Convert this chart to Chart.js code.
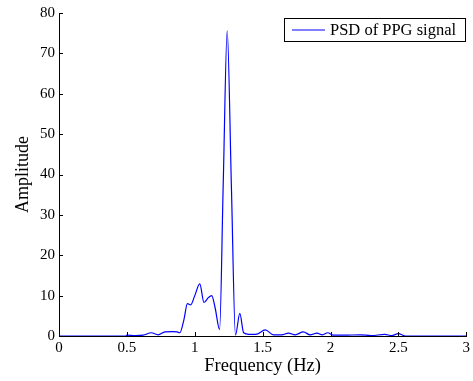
<!DOCTYPE html>
<html>
<head>
<meta charset="utf-8">
<script src="https://cdn.jsdelivr.net/npm/chart.js@4"></script>
<style>
  html, body { margin: 0; padding: 0; background: #fff; }
  #wrap { width: 473px; height: 381px; position: relative; }
</style>
</head>
<body>
<div id="wrap"><canvas id="c" width="473" height="381"></canvas></div>
<script>
const seriesLabel = 'PSD of PPG signal';
const freqHz = [0, 0.49, 0.5, 0.56, 0.62, 0.68, 0.73, 0.78, 0.84, 0.87, 0.89, 0.92, 0.946, 0.97, 1.0, 1.037, 1.068, 1.10, 1.125, 1.15, 1.183, 1.21, 1.239, 1.27, 1.30, 1.332, 1.36, 1.40, 1.45, 1.52, 1.58, 1.64, 1.69, 1.74, 1.80, 1.85, 1.90, 1.94, 1.98, 2.02, 2.1, 2.22, 2.3, 2.4, 2.45, 2.5, 2.55, 3.0];
const psdAmp = [0, 0, 0.2, 0.1, 0.2, 0.8, 0.3, 1.0, 1.1, 1.0, 0.8, 4.0, 8.0, 7.7, 10.0, 12.9, 8.3, 9.5, 10.0, 7.0, 1.6, 38, 75.6, 37, 0.2, 5.6, 0.8, 0.4, 0.4, 1.5, 0.3, 0.3, 0.7, 0.3, 1.0, 0.3, 0.7, 0.3, 0.8, 0.2, 0.2, 0.3, 0.1, 0.4, 0.1, 0.6, 0, 0];
const xTicks = [0, 0.5, 1, 1.5, 2, 2.5, 3];
const yTicks = [0, 10, 20, 30, 40, 50, 60, 70, 80];
const xTitle = 'Frequency (Hz)';
const yTitle = 'Amplitude';

const serif = "'Liberation Serif', 'Times New Roman', serif";

const inwardTicks = {
  id: 'inwardTicks',
  afterDraw(chart) {
    const ctx = chart.ctx, xs = chart.scales.x, ys = chart.scales.y, a = chart.chartArea;
    ctx.save();
    ctx.strokeStyle = '#000';
    ctx.lineWidth = 1;
    ctx.beginPath();
    xTicks.forEach(v => {
      const px = Math.round(xs.getPixelForValue(v)) + 0.5;
      ctx.moveTo(px, a.bottom); ctx.lineTo(px, a.bottom - 4);
    });
    yTicks.forEach(v => {
      const py = Math.round(ys.getPixelForValue(v)) + 0.5;
      ctx.moveTo(a.left, py); ctx.lineTo(a.left + 4, py);
    });
    ctx.stroke();
    // legend box
    const lx = 284, ly = 18, lw = 181, lh = 23;
    ctx.fillStyle = '#fff';
    ctx.fillRect(lx, ly, lw, lh);
    ctx.strokeRect(lx + 0.5, ly + 0.5, lw, lh);
    const ds = chart.data.datasets[0];
    ctx.strokeStyle = ds.borderColor;
    ctx.beginPath();
    ctx.moveTo(292, ly + lh / 2 + 0.5); ctx.lineTo(325, ly + lh / 2 + 0.5);
    ctx.stroke();
    ctx.fillStyle = '#000';
    ctx.font = '16.5px ' + serif;
    ctx.textBaseline = 'middle';
    ctx.fillText(ds.label, 330, ly + lh / 2 + 1);
    ctx.restore();
  }
};

new Chart(document.getElementById('c'), {
  type: 'line',
  data: {
    datasets: [{
      label: seriesLabel,
      data: freqHz.map((f, i) => ({ x: f, y: psdAmp[i] })),
      borderColor: '#0000ff',
      borderWidth: 1.2,
      pointRadius: 0,
      fill: false,
      cubicInterpolationMode: 'monotone'
    }]
  },
  options: {
    responsive: false,
    animation: false,
    layout: { padding: { top: 13, right: 4, left: 0, bottom: 0 } },
    plugins: { legend: { display: false }, tooltip: { enabled: false } },
    scales: {
      x: {
        type: 'linear', min: 0, max: 3,
        afterFit(s) { s.height = 45; },
        afterBuildTicks(s) { s.ticks = xTicks.map(v => ({ value: v })); },
        grid: { display: true, drawOnChartArea: false, drawTicks: false, tickLength: 0 },
        border: { display: true, color: '#000', width: 1 },
        ticks: { color: '#000', font: { family: serif, size: 15 }, padding: 3, maxRotation: 0, autoSkip: false,
                 callback: v => String(v) },
        title: { display: true, text: xTitle, color: '#000', font: { family: serif, size: 18.5 }, padding: { top: 0, bottom: 4 } }
      },
      y: {
        type: 'linear', min: 0, max: 80,
        afterFit(s) { s.width = 59; },
        afterBuildTicks(s) { s.ticks = yTicks.map(v => ({ value: v })); },
        grid: { display: true, drawOnChartArea: false, drawTicks: false, tickLength: 0 },
        border: { display: true, color: '#000', width: 1 },
        ticks: { color: '#000', font: { family: serif, size: 15 }, padding: 4, autoSkip: false,
                 callback: v => String(v) },
        title: { display: true, text: yTitle, color: '#000', font: { family: serif, size: 18 }, padding: { top: 12, bottom: 0 } }
      }
    }
  },
  plugins: [inwardTicks]
});
</script>
</body>
</html>
